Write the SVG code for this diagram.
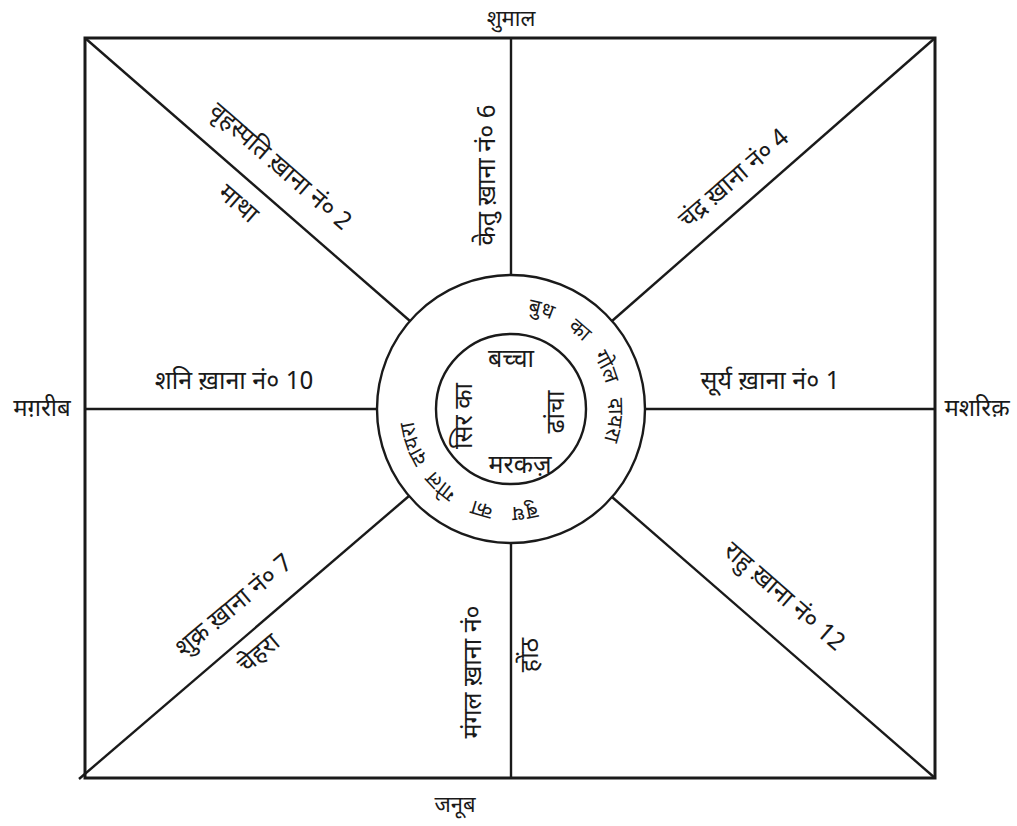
<svg xmlns="http://www.w3.org/2000/svg" width="1017" height="826" viewBox="0 0 1017 826">
<style>
.ln{stroke:#1a1a1a;stroke-width:2.4;fill:none}
.bd{stroke:#1a1a1a;stroke-width:3;fill:none}
.t{font-family:"Noto Sans Devanagari","Noto Sans","Open Sans",sans-serif;font-size:25px;fill:#1a1a1a;text-anchor:middle;dominant-baseline:central}
.d{font-size:22px}
.w{font-size:24px}
.r{font-family:"Noto Sans Devanagari","Noto Sans","Open Sans",sans-serif;font-size:21px;fill:#1a1a1a;text-anchor:middle}
</style>
<defs>
<path id="ring" d="M511,311 A98,98 0 1,1 511,507 A98,98 0 1,1 511,311"/>
</defs>
<rect width="1017" height="826" fill="#fff"/>
<g id="connectors">
<rect class="bd" x="85" y="38" width="850" height="740"/>
<line class="ln" x1="511" y1="38" x2="511" y2="275"/>
<line class="ln" x1="511" y1="543" x2="511" y2="778"/>
<line class="ln" x1="85" y1="409" x2="377" y2="409"/>
<line class="ln" x1="645" y1="409" x2="935" y2="409"/>
<line class="ln" x1="85" y1="38" x2="410" y2="321"/>
<line class="ln" x1="935" y1="38" x2="612" y2="321"/>
<line class="ln" x1="79" y1="779" x2="409" y2="496"/>
<line class="ln" x1="935" y1="778" x2="612" y2="497"/>
</g>
<g id="outer-circle">
<circle class="ln" cx="511" cy="409" r="134"/>
<text class="r"><textPath href="#ring" startOffset="29.1">बुध</textPath></text>
<text class="r"><textPath href="#ring" startOffset="70.1">का</textPath></text>
<text class="r"><textPath href="#ring" startOffset="112.9">गोल</textPath></text>
<text class="r"><textPath href="#ring" startOffset="164.2">दायरा</textPath></text>
<text class="r"><textPath href="#ring" startOffset="294.2">बुध</textPath></text>
<text class="r"><textPath href="#ring" startOffset="335.3">का</textPath></text>
<text class="r"><textPath href="#ring" startOffset="379.7">गोल</textPath></text>
<text class="r"><textPath href="#ring" startOffset="427.6">दायरा</textPath></text>
</g>
<g id="inner-circle">
<circle class="ln" cx="511" cy="409" r="75"/>
<text class="t" x="511" y="361">बच्चा</text>
<text class="t" transform="translate(466,416) rotate(-90)">सिर का</text>
<text class="t" transform="translate(558,412) rotate(-90)">ढांचा</text>
<text class="t" x="520" y="467">मरकज़</text>
</g>
<g id="house-2">
<text class="t" transform="translate(279,168) rotate(41)">वृहस्पति ख़ाना नं० 2</text>
<text class="t" transform="translate(237,205) rotate(41)">माथा</text>
</g>
<g id="house-6">
<text class="t" transform="translate(489,175) rotate(-90)">केतु ख़ाना नं० 6</text>
</g>
<g id="house-4">
<text class="t" transform="translate(735,180) rotate(-41)">चंद्र ख़ाना नं० 4</text>
</g>
<g id="house-10">
<text class="t" x="234" y="383">शनि ख़ाना नं० 10</text>
</g>
<g id="house-1">
<text class="t" x="770" y="383">सूर्य ख़ाना नं० 1</text>
</g>
<g id="house-7">
<text class="t" transform="translate(235,607) rotate(-40)">शुक्र ख़ाना नं० 7</text>
<text class="t" transform="translate(260,655) rotate(-40)">चेहरा</text>
</g>
<g id="house-3">
<text class="t" transform="translate(475,672) rotate(-90)">मंगल ख़ाना नं०</text>
<text class="t" transform="translate(532,655) rotate(-90)">होंठ</text>
</g>
<g id="house-12">
<text class="t" transform="translate(783,598) rotate(41)">राहु ख़ाना नं० 12</text>
</g>
<g id="directions">
<text class="t d" x="511" y="20">शुमाल</text>
<text class="t w" x="42" y="410">मग़रीब</text>
<text class="t w" x="977" y="410">मशरिक़</text>
<text class="t d" x="455" y="806">जनूब</text>
</g>
</svg>
